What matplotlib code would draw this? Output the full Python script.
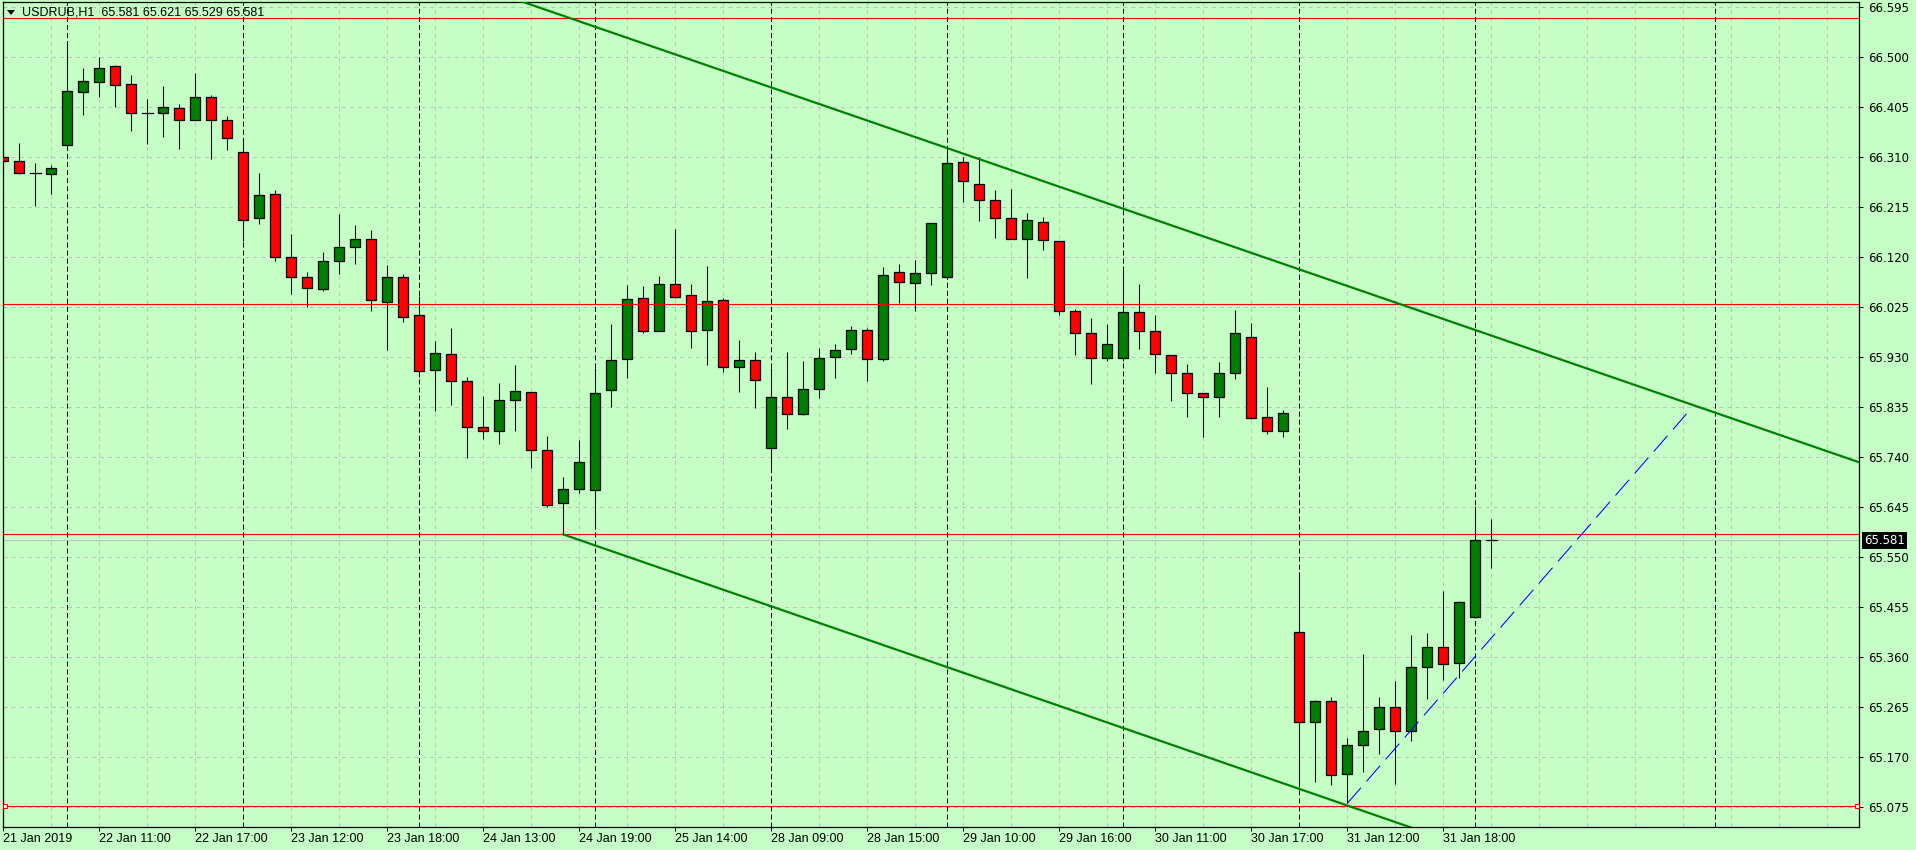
import matplotlib
matplotlib.use('Agg')
import matplotlib.pyplot as plt
import matplotlib.transforms as mtransforms
from matplotlib.patches import Rectangle, Polygon
import pandas as pd

plt.rcParams['font.family'] = ['Liberation Sans', 'DejaVu Sans']
plt.rcParams['lines.scale_dashes'] = False

symbol = 'USDRUB,H1'
last_bar = [65.581, 65.621, 65.529, 65.581]   # O H L C of current bar

# H1 candles, 21 Jan 16:00 .. 1 Feb 10:00
opens = [66.309, 66.301, 66.279, 66.277, 66.331, 66.433, 66.452, 66.482, 66.447, 66.392,
         66.392, 66.402, 66.379, 66.423, 66.379, 66.318, 66.194, 66.238, 66.120, 66.082,
         66.059, 66.111, 66.138, 66.153, 66.033, 66.082, 66.008, 65.904, 65.934, 65.883,
         65.796, 65.788, 65.847, 65.862, 65.752, 65.651, 65.678, 65.676, 65.866, 65.925,
         66.041, 65.978, 66.067, 66.046, 65.980, 66.037, 65.910, 65.923, 65.756, 65.853,
         65.820, 65.868, 65.929, 65.944, 65.980, 65.925, 66.090, 66.070, 66.088, 66.081,
         66.299, 66.257, 66.227, 66.193, 66.153, 66.185, 66.149, 66.016, 65.974, 65.927,
         65.927, 66.014, 65.978, 65.932, 65.898, 65.860, 65.854, 65.898, 65.967, 65.815,
         65.789, 65.406, 65.235, 65.275, 65.136, 65.191, 65.222, 65.264, 65.218, 65.341,
         65.378, 65.347, 65.436, 65.581]
highs = [66.319, 66.336, 66.298, 66.294, 66.530, 66.478, 66.500, 66.484, 66.465, 66.419,
         66.444, 66.410, 66.469, 66.427, 66.387, 66.341, 66.279, 66.246, 66.163, 66.091,
         66.129, 66.200, 66.180, 66.170, 66.104, 66.087, 66.045, 65.960, 65.984, 65.891,
         65.855, 65.880, 65.914, 65.862, 65.779, 65.701, 65.771, 65.908, 65.992, 66.066,
         66.064, 66.083, 66.172, 66.068, 66.102, 66.041, 65.961, 65.938, 65.908, 65.939,
         65.922, 65.946, 65.954, 65.988, 65.984, 66.100, 66.106, 66.113, 66.183, 66.326,
         66.310, 66.309, 66.246, 66.248, 66.202, 66.195, 66.149, 66.020, 66.003, 65.991,
         66.101, 66.067, 66.008, 65.932, 65.915, 65.860, 65.919, 66.018, 65.993, 65.872,
         65.828, 65.520, 65.277, 65.283, 65.205, 65.364, 65.284, 65.313, 65.400, 65.404,
         65.485, 65.465, 65.646, 65.621]
lows = [66.256, 66.277, 66.216, 66.239, 66.329, 66.389, 66.424, 66.405, 66.359, 66.334,
        66.348, 66.325, 66.379, 66.306, 66.323, 66.150, 66.181, 66.112, 66.049, 66.025,
        66.055, 66.086, 66.106, 66.017, 65.943, 65.996, 65.892, 65.827, 65.838, 65.738,
        65.774, 65.763, 65.789, 65.719, 65.644, 65.592, 65.671, 65.607, 65.834, 65.890,
        65.974, 65.978, 66.041, 65.947, 65.913, 65.900, 65.862, 65.832, 65.719, 65.793,
        65.818, 65.852, 65.890, 65.934, 65.884, 65.921, 66.032, 66.017, 66.066, 66.077,
        66.224, 66.188, 66.156, 66.153, 66.080, 66.132, 66.008, 65.932, 65.878, 65.921,
        65.921, 65.945, 65.899, 65.846, 65.815, 65.777, 65.815, 65.887, 65.811, 65.783,
        65.778, 65.116, 65.122, 65.115, 65.081, 65.140, 65.174, 65.117, 65.199, 65.279,
        65.316, 65.320, 65.434, 65.529]
closes = [66.301, 66.279, 66.279, 66.288, 66.434, 66.453, 66.478, 66.445, 66.392, 66.392,
          66.404, 66.379, 66.424, 66.379, 66.346, 66.190, 66.236, 66.120, 66.082, 66.061,
          66.111, 66.139, 66.153, 66.037, 66.082, 66.006, 65.902, 65.936, 65.883, 65.796,
          65.788, 65.847, 65.864, 65.752, 65.647, 65.678, 65.729, 65.860, 65.923, 66.039,
          65.978, 66.067, 66.044, 65.978, 66.035, 65.911, 65.923, 65.885, 65.853, 65.820,
          65.868, 65.927, 65.942, 65.980, 65.925, 66.084, 66.072, 66.088, 66.183, 66.297,
          66.263, 66.227, 66.193, 66.153, 66.189, 66.151, 66.016, 65.974, 65.927, 65.953,
          66.014, 65.978, 65.934, 65.898, 65.860, 65.854, 65.898, 65.974, 65.813, 65.789,
          65.822, 65.235, 65.275, 65.134, 65.191, 65.218, 65.264, 65.218, 65.341, 65.378,
          65.345, 65.463, 65.581, 65.581]

# trading sessions (date, first hour, last hour)
sessions = [('2019-01-21', 16, 19), ('2019-01-22', 9, 19), ('2019-01-23', 9, 19),
            ('2019-01-24', 9, 19), ('2019-01-25', 9, 19), ('2019-01-28', 9, 19),
            ('2019-01-29', 9, 19), ('2019-01-30', 9, 19), ('2019-01-31', 9, 19),
            ('2019-02-01', 9, 10)]

price_ticks = [66.595, 66.500, 66.405, 66.310, 66.215, 66.120, 66.025, 65.930, 65.835,
               65.740, 65.645, 65.550, 65.455, 65.360, 65.265, 65.170, 65.075]

# objects on the chart
hlevels = [66.573, 66.029, 65.592, 65.076]
upper_tl = [(59, 66.326), (116, 65.729)]
lower_tl = [(35, 65.592), (84, 65.077)]
blue_tl = [(84, 65.081), (105.2, 65.821)]
bid = last_bar[3]

times = []
for day, h0, h1 in sessions:
    for h in range(h0, h1 + 1):
        times.append(pd.Timestamp(day) + pd.Timedelta(hours=h))
n = len(times)

bg = '#C5FFC5'
W, H = 1916, 850
fig = plt.figure(figsize=(W / 100, H / 100), dpi=100, facecolor=bg)
L, R, T, B = 2.7, 1859.3, 1.7, 826.7
ax = fig.add_axes([L / W, 1 - B / H, (R - L) / W, (B - T) / H])
ax.set_facecolor(bg)
ax.set_xlim(-0.0375, 116.0)
ax.set_ylim(65.0367, 66.6042)

# grid
grid_kw = dict(color='#C0C0C0', lw=0.72, dashes=(2.9, 2.9), zorder=0.5)
for p in price_ticks:
    ax.axhline(p, **grid_kw)
for i in range(0, 117, 3):
    ax.axvline(i, **grid_kw)

# day separators (future bars assumed hourly)
seps = [i for i in range(1, n) if times[i].date() != times[i - 1].date()]
next_midnight = (times[-1] + pd.Timedelta(days=1)).normalize()
seps.append(n - 1 + int((next_midnight - times[-1]) / pd.Timedelta(hours=1)))
for i in seps:
    ax.axvline(i, color='black', lw=0.72, dashes=(3.6, 2.2), zorder=1)

# bid line
ax.axhline(bid, color='#C0C0C0', lw=0.8, zorder=2)

# candles
w = 0.6
for i, (o, h, l, c) in enumerate(zip(opens, highs, lows, closes)):
    ax.plot([i, i], [l, h], color='black', lw=0.75, zorder=3, solid_capstyle='butt')
    if o == c:
        ax.plot([i - w / 2 - 0.03, i + w / 2 + 0.03], [o, o], color='black', lw=0.9, zorder=4)
    else:
        fc = '#008000' if c > o else '#FF0000'
        ax.add_patch(Rectangle((i - w / 2, min(o, c)), w, abs(c - o), facecolor=fc,
                               edgecolor='black', lw=0.9, zorder=4))

# horizontal lines
for p in hlevels:
    ax.axhline(p, color='#FF0000', lw=0.8, zorder=5)
ax.plot([0.12, 115.85], [hlevels[-1]] * 2, 's', ms=3.2, mfc='white', mec='#FF0000',
        mew=0.8, zorder=6, clip_on=False)


def ray(pts, x0, x1):
    (xa, ya), (xb, yb) = pts
    k = (yb - ya) / (xb - xa)
    return [x0, x1], [ya + k * (x0 - xa), ya + k * (x1 - xa)]


xs, ys = ray(upper_tl, -1, 117)
ax.plot(xs, ys, color='#008000', lw=1.6, zorder=5)
xs, ys = ray(lower_tl, lower_tl[0][0], 117)
ax.plot(xs, ys, color='#008000', lw=1.6, zorder=5)
ax.plot([blue_tl[0][0], blue_tl[1][0]], [blue_tl[0][1], blue_tl[1][1]], color='#0000FF',
        lw=0.75, dashes=(15, 6), zorder=5)

# axes
for s in ax.spines.values():
    s.set_linewidth(0.9)
    s.set_color('black')
ax.yaxis.tick_right()
ax.set_yticks(price_ticks)
ax.set_yticklabels([f'{p:.3f}' for p in price_ticks], family=['DejaVu Sans'], fontsize=8.5)
lbl_idx = list(range(0, n, 6))
lbl = [times[0].strftime('%d %b %Y')] + [times[i].strftime('%d %b %H:%M') for i in lbl_idx[1:]]
ax.set_xticks(lbl_idx)
ax.set_xticklabels(lbl, ha='left', fontsize=9)
ax.tick_params(axis='both', direction='out', length=3, width=0.72, colors='black')
ax.tick_params(axis='y', pad=3)
ax.tick_params(axis='x', pad=1.5)

trans = mtransforms.blended_transform_factory(ax.transAxes, ax.transData)
ax.text(1 + 5 / (R - L), bid, f'{bid:.3f}', transform=trans, ha='left', va='center',
        color='white', fontsize=8.5, family=['DejaVu Sans'], clip_on=False, zorder=10,
        bbox=dict(boxstyle='square,pad=0.18', fc='black', ec='none'))

# title
fig.text(21.7 / W, 1 - 12.7 / H, f'{symbol}  ' + ' '.join(f'{v:.3f}' for v in last_bar),
         ha='left', va='center', fontsize=9, color='black')
fig.add_artist(Polygon([(7 / W, 1 - 10 / H), (15 / W, 1 - 10 / H), (11 / W, 1 - 15 / H)],
                       closed=True, fc='black', ec='none', transform=fig.transFigure))

fig.savefig('out.png', dpi=100, facecolor=bg)
